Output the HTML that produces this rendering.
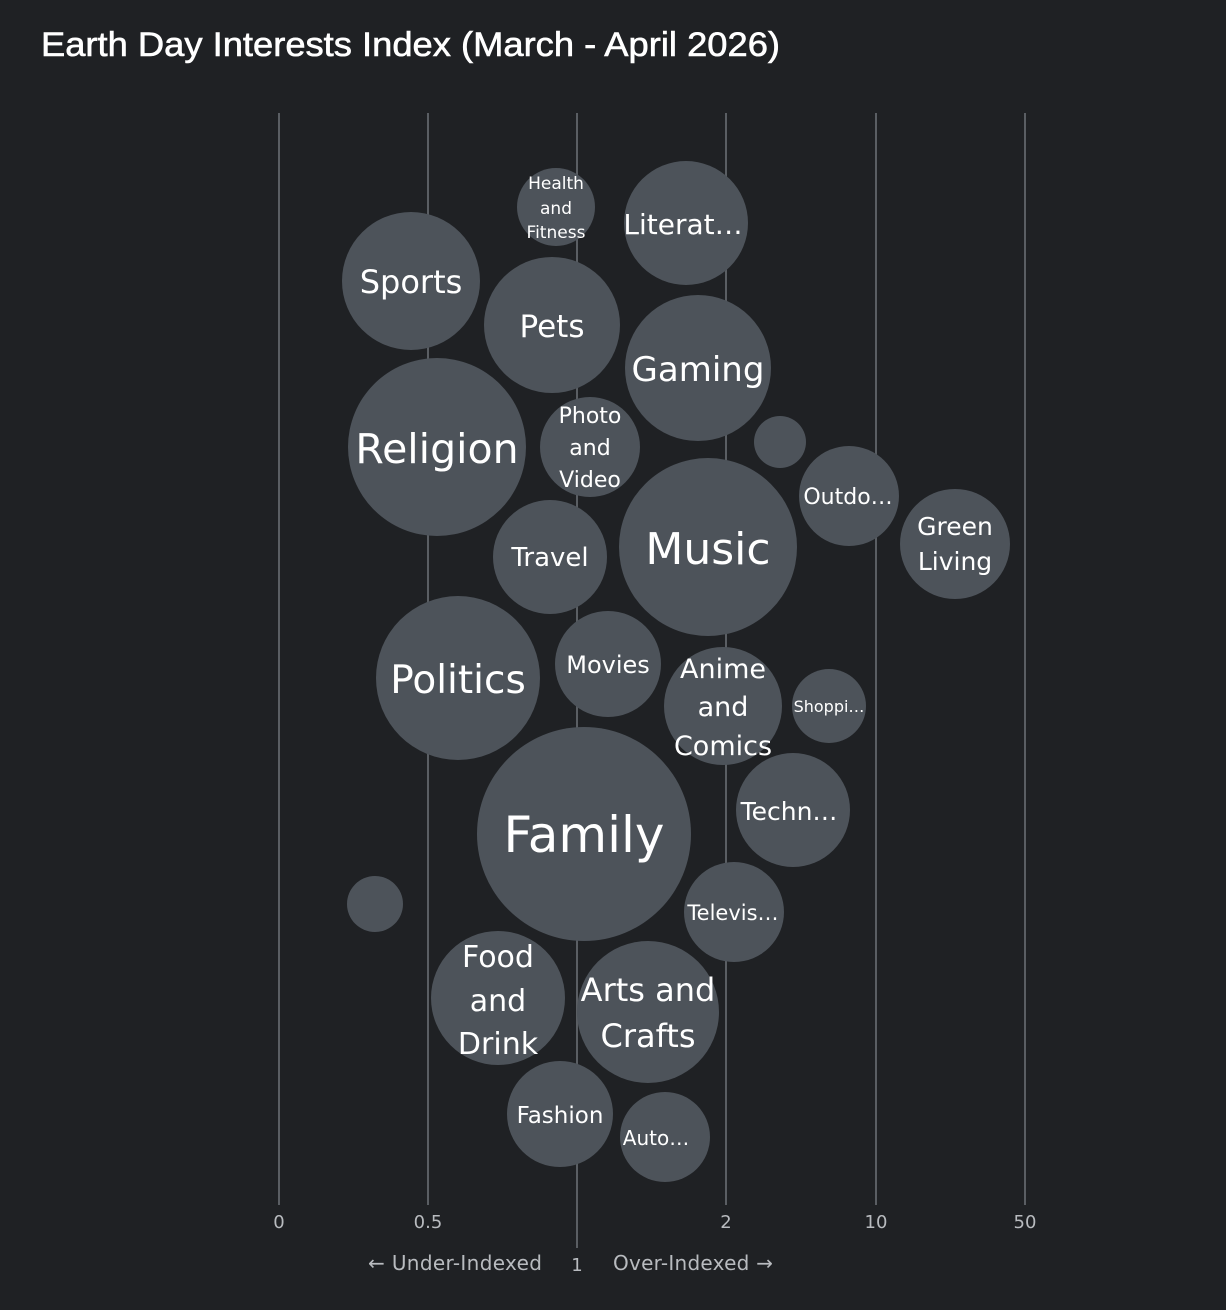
<!DOCTYPE html>
<html><head><meta charset="utf-8"><style>
html,body{margin:0;padding:0;background:#1f2124;}
svg{display:block}
</style></head><body>
<svg width="1226" height="1310" xmlns="http://www.w3.org/2000/svg">
<rect width="1226" height="1310" fill="#1f2124"/>
<text x="41" y="56" font-family="Liberation Sans, sans-serif" font-size="34" fill="#fff" textLength="739" lengthAdjust="spacingAndGlyphs" stroke="#fff" stroke-width="0.6">Earth Day Interests Index (March - April 2026)</text>
<g stroke="#5a5e63" stroke-width="2">
<line x1="279" y1="113" x2="279" y2="1205"/>
<line x1="428" y1="113" x2="428" y2="1205"/>
<line x1="577" y1="113" x2="577" y2="1248"/>
<line x1="726" y1="113" x2="726" y2="1205"/>
<line x1="876" y1="113" x2="876" y2="1205"/>
<line x1="1025" y1="113" x2="1025" y2="1205"/>
</g>
<g font-family="DejaVu Sans, sans-serif" font-size="18" fill="#b8bbbf" text-anchor="middle">
<text x="279" y="1228">0</text><text x="428" y="1228">0.5</text><text x="726" y="1228">2</text><text x="876" y="1228">10</text><text x="1025" y="1228">50</text>
<text x="577" y="1271">1</text>
<text x="455" y="1270" font-size="20" textLength="174">← Under-Indexed</text>
<text x="693" y="1270" font-size="20" textLength="160">Over-Indexed →</text>
</g>
<g fill="#4d535a">
<circle cx="556" cy="207" r="39"/><circle cx="686" cy="223" r="62"/><circle cx="411" cy="281" r="69"/>
<circle cx="552" cy="325" r="68"/><circle cx="698" cy="368" r="73"/><circle cx="437" cy="447" r="89"/>
<circle cx="590" cy="447" r="50"/><circle cx="780" cy="442" r="26"/><circle cx="849" cy="496" r="50"/>
<circle cx="955" cy="544" r="55"/><circle cx="550" cy="557" r="57"/><circle cx="708" cy="547" r="89"/>
<circle cx="458" cy="678" r="82"/><circle cx="608" cy="664" r="53"/><circle cx="723" cy="706" r="59"/>
<circle cx="829" cy="706" r="37"/><circle cx="793" cy="810" r="57"/><circle cx="584" cy="834" r="107"/>
<circle cx="375" cy="904" r="28"/><circle cx="734" cy="912" r="50"/><circle cx="498" cy="998" r="67"/>
<circle cx="648" cy="1012" r="71"/><circle cx="560" cy="1114" r="53"/><circle cx="665" cy="1137" r="45"/>
</g>
<g font-family="DejaVu Sans, sans-serif" fill="#fff" text-anchor="middle">
<text font-size="17" x="556" y="189">Health</text><text font-size="17" x="556" y="214">and</text><text font-size="17" x="556" y="238">Fitness</text>
<text font-size="28" x="683" y="234">Literat…</text>
<text font-size="32" x="411" y="293">Sports</text>
<text font-size="31" x="552" y="337">Pets</text>
<text font-size="34" x="698" y="381">Gaming</text>
<text font-size="41" x="437" y="463">Religion</text>
<text font-size="22" x="590" y="423">Photo</text><text font-size="22" x="590" y="455">and</text><text font-size="22" x="590" y="487">Video</text>
<text font-size="22" x="848" y="504">Outdo…</text>
<text font-size="25" x="955" y="535">Green</text><text font-size="25" x="955" y="570">Living</text>
<text font-size="26" x="550" y="566">Travel</text>
<text font-size="44" x="708" y="564">Music</text>
<text font-size="39" x="458" y="693">Politics</text>
<text font-size="24" x="608" y="673">Movies</text>
<text font-size="27" x="723" y="678">Anime</text><text font-size="27" x="723" y="716">and</text><text font-size="27" x="723" y="755">Comics</text>
<text font-size="16" x="829" y="712">Shoppi…</text>
<text font-size="25" x="789" y="820">Techn…</text>
<text font-size="50" x="584" y="852">Family</text>
<text font-size="21" x="733" y="920">Televis…</text>
<text font-size="30" x="498" y="967">Food</text><text font-size="30" x="498" y="1011">and</text><text font-size="30" x="498" y="1054">Drink</text>
<text font-size="32" x="648" y="1001">Arts and</text><text font-size="32" x="648" y="1047">Crafts</text>
<text font-size="23" x="560" y="1123">Fashion</text>
<text font-size="20" x="656" y="1145">Auto…</text>
</g>
</svg>
</body></html>
